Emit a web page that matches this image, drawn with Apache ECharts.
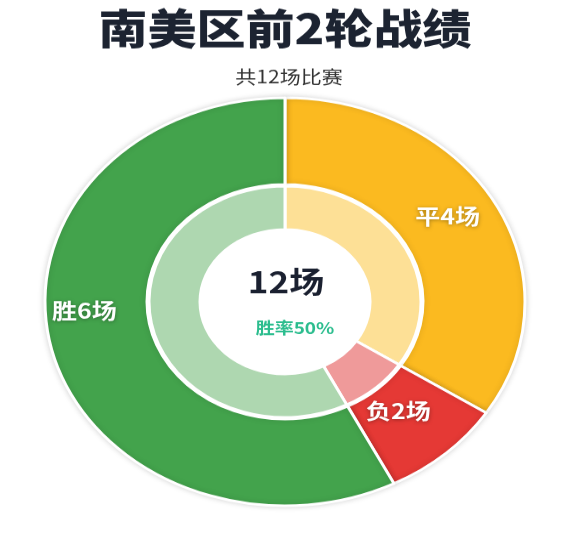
<!DOCTYPE html>
<html>
<head>
<meta charset="utf-8">
<script src="https://cdn.jsdelivr.net/npm/echarts@6/dist/echarts.min.js"></script>
<style>
  html, body { margin: 0; padding: 0; background: #fff; overflow: hidden; }
  /* the reference is squashed vertically, so the chart is drawn taller and scaled down */
  #chart { width: 580px; height: 627px; transform: scaleY(0.85); transform-origin: 0 0; }
</style>
</head>
<body>
<div id="chart"></div>
<script>
// 数据
const categories = ['平', '负', '胜']
const matchCounts = [4, 2, 6]
// slice sizes as drawn in the picture (out of 12)
const sliceShares = [4.1, 1.0, 6.9]
const totalMatches = 12
const winRate = '50%'

const darkColors = ['#fbba20', '#e53935', '#43a34c']
const lightColors = ['#fde096', '#ef9a9a', '#aed7b0']
// label nudges, [dx, dy]
const labelNudge = [[-6, -9], [-15, -14], [-14, -34]]

const chart = echarts.init(document.getElementById('chart'))

const outerData = categories.map((name, i) => ({
  name,
  value: sliceShares[i],
  count: matchCounts[i],
  itemStyle: { color: darkColors[i] }
}))
const innerData = categories.map((name, i) => ({
  name,
  value: sliceShares[i],
  itemStyle: { color: lightColors[i] }
}))

chart.setOption({
  backgroundColor: '#fff',
  title: [
    {
      text: '南美区前2轮战绩',
      left: 280,
      textAlign: 'center',
      top: 4,
      textStyle: { fontSize: 49, fontWeight: 900, color: '#1c2331', fontFamily: 'Noto Sans CJK SC' }
    },
    {
      text: '共' + totalMatches + '场比赛',
      left: 284,
      textAlign: 'center',
      top: 75,
      textStyle: { fontSize: 21, fontWeight: 'normal', color: '#333', fontFamily: 'Noto Sans CJK SC' }
    },
    {
      text: totalMatches + '场',
      left: 281,
      textAlign: 'center',
      top: 309,
      textStyle: { fontSize: 35, fontWeight: 'bold', color: '#1a2030', fontFamily: 'Noto Sans CJK SC' }
    },
    {
      text: '胜率' + winRate,
      left: 290,
      textAlign: 'center',
      top: 371,
      textStyle: { fontSize: 19, fontWeight: 'bold', color: '#2bbd8e', fontFamily: 'Noto Sans CJK SC' }
    }
  ],
  series: [
    {
      name: '外环',
      type: 'pie',
      center: [285, 355],
      radius: [138, 240],
      startAngle: 90,
      clockwise: true,
      silent: true,
      itemStyle: {
        borderColor: '#fff',
        borderWidth: 3,
        shadowBlur: 6,
        shadowColor: 'rgba(0,0,0,0.15)'
      },
      label: {
        show: true,
        position: 'inside',
        formatter: (p) => p.name + p.data.count + '场',
        color: '#fff',
        fontSize: 25,
        fontWeight: 'bold',
        fontFamily: 'Noto Sans CJK SC',
        textShadowColor: 'rgba(0,0,0,0.35)',
        textShadowBlur: 4,
        textShadowOffsetY: 1
      },
      labelLayout: (p) => ({ dx: labelNudge[p.dataIndex][0], dy: labelNudge[p.dataIndex][1] }),
      labelLine: { show: false },
      data: outerData
    },
    {
      name: '内环',
      type: 'pie',
      center: [285, 355],
      radius: [85, 136],
      startAngle: 90,
      clockwise: true,
      silent: true,
      itemStyle: { borderColor: '#fff', borderWidth: 3 },
      label: { show: false },
      labelLine: { show: false },
      data: innerData
    }
  ]
})
</script>
</body>
</html>
